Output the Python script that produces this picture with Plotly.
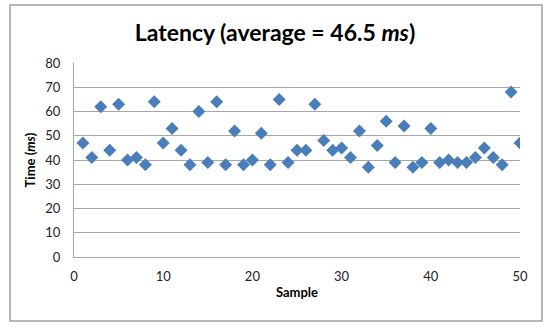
import plotly.graph_objects as go

samples = list(range(1, 51))
latency = [47, 41, 62, 44, 63, 40, 41, 38, 64, 47,
           53, 44, 38, 60, 39, 64, 38, 52, 38, 40,
           51, 38, 65, 39, 44, 44, 63, 48, 44, 45,
           41, 52, 37, 46, 56, 39, 54, 37, 39, 53,
           39, 40, 39, 39, 41, 45, 41, 38, 68, 47]
title_text = "Latency (average = 46.5 <i>ms</i>)"
x_title = "Sample"
y_title = "Time (<i>ms</i>)"

W, H = 550, 331
L, R, T, B = 74, 520, 63, 257
pw, ph = R - L, B - T

fig = go.Figure(go.Scatter(
    x=samples, y=latency, mode="markers",
    marker=dict(symbol="diamond", size=10, color="#4A7EBB", line=dict(width=0)),
))

font = "Lato, 'Open Sans', sans-serif"
fig.update_layout(
    width=W, height=H,
    margin=dict(l=L, r=W - R, t=T, b=H - B, autoexpand=False),
    paper_bgcolor="white", plot_bgcolor="white",
    showlegend=False,
    font=dict(family=font, color="#222", size=13),
    title=dict(text=title_text, x=0.5, xanchor="center", xref="container",
               y=1 - 33 / H, yanchor="middle",
               font=dict(family=font, size=23, color="black", weight="bold")),
    xaxis=dict(range=[0, 50], dtick=10, showgrid=False, zeroline=False,
               showline=True, linecolor="#A6A6A6", linewidth=1,
               ticks="", ticklabelstandoff=7, tickfont=dict(size=13, color="#222"),
               automargin=False,
               title=dict(text=x_title, standoff=5,
                          font=dict(size=13, color="black", weight="bold"))),
    yaxis=dict(range=[0, 80], dtick=10, showgrid=True, gridcolor="#A6A6A6",
               gridwidth=1, zeroline=False, showline=True,
               linecolor="#A6A6A6", linewidth=1, ticks="",
               ticklabelstandoff=10, automargin=False,
               tickfont=dict(size=13, color="#222"),
               title=dict(text=y_title, standoff=6,
                          font=dict(size=13, color="black", weight="bold"))),
)

fig.add_shape(type="rect", xref="paper", yref="paper",
              x0=(10 - L) / pw, x1=(542 - L) / pw,
              y0=(B - 321) / ph, y1=(B - 5) / ph,
              line=dict(color="#A0A0A0", width=1.5), layer="below")

fig.write_html("out.html",
               config={"displayModeBar": False},
               post_script="document.body.style.margin='0';document.body.style.overflow='hidden';")
